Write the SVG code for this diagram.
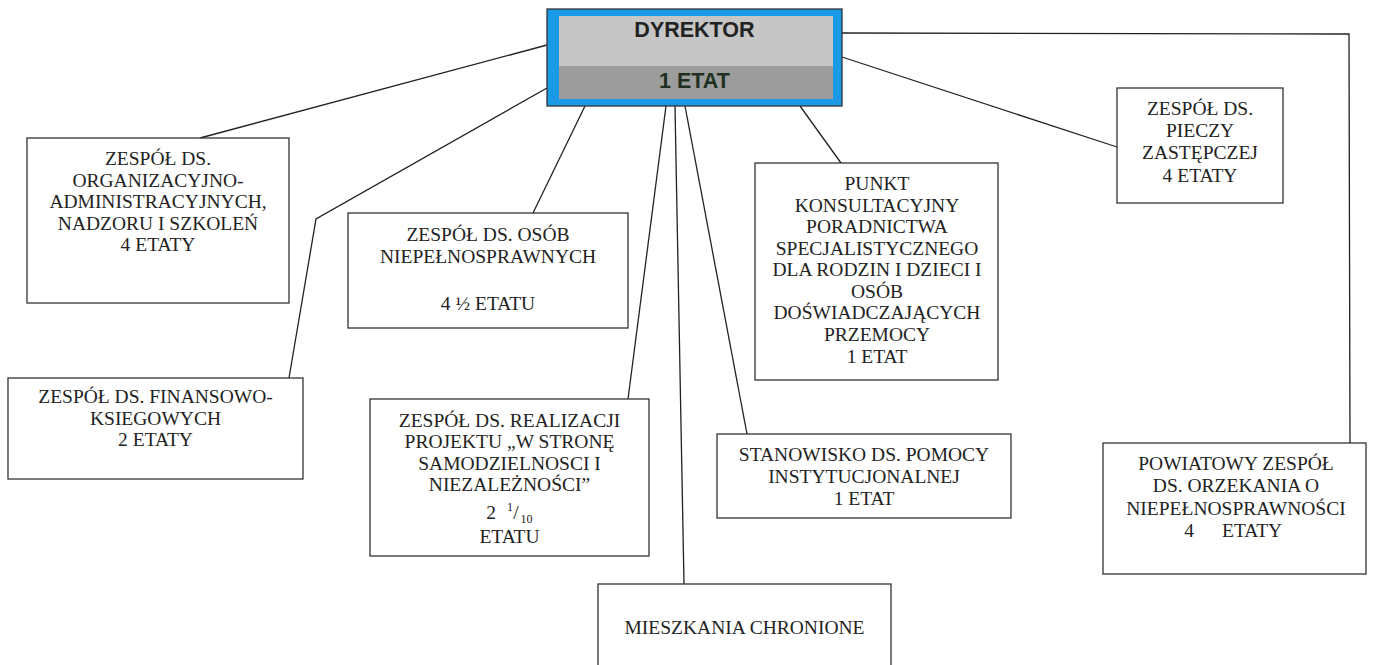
<svg xmlns="http://www.w3.org/2000/svg" width="1373" height="665" viewBox="0 0 1373 665">
<style>
.box{fill:#fff;stroke:#333;stroke-width:1.3}
.t{font-family:"Liberation Serif","Times New Roman",serif;font-size:19.5px;fill:#222;text-anchor:middle}
.d{font-family:"Liberation Sans",Arial,sans-serif;font-size:21.5px;font-weight:bold;text-anchor:middle}
.c{fill:none;stroke:#222;stroke-width:1.3}
</style>
<rect width="1373" height="665" fill="#fff"/>
<g id="connectors">
<line class="c" x1="547" y1="45" x2="200" y2="138"/>
<polyline class="c" points="547,88 316,219 289,378"/>
<line class="c" x1="585" y1="106" x2="533" y2="213"/>
<line class="c" x1="666" y1="106" x2="628" y2="399"/>
<line class="c" x1="675" y1="106" x2="684" y2="584"/>
<line class="c" x1="685" y1="106" x2="747" y2="434"/>
<line class="c" x1="800" y1="106" x2="841" y2="163"/>
<line class="c" x1="842" y1="57" x2="1117" y2="147"/>
<polyline class="c" points="842,33 1349,34 1350,443"/>
</g>
<g id="dyrektor">
<rect x="547" y="9" width="295" height="97" fill="#1a9ae6" stroke="#333" stroke-width="1.3"/>
<rect x="559" y="16" width="274" height="50" fill="#c6c6c6"/>
<rect x="559" y="66" width="274" height="33" fill="#9c9c9c"/>
<text class="d" x="694.5" y="37" fill="#222">DYREKTOR</text>
<text class="d" x="694.5" y="88" fill="#1f3020">1 ETAT</text>
</g>
<g id="org">
<rect class="box" x="27" y="138" width="262" height="165"/>
<text class="t" x="158" y="165">ZESPÓŁ DS.</text>
<text class="t" x="158" y="186.5">ORGANIZACYJNO-</text>
<text class="t" x="158" y="208">ADMINISTRACYJNYCH,</text>
<text class="t" x="158" y="229.5">NADZORU I SZKOLEŃ</text>
<text class="t" x="158" y="251">4 ETATY</text>
</g>
<g id="fin">
<rect class="box" x="8" y="378" width="295" height="101"/>
<text class="t" x="155.5" y="403">ZESPÓŁ DS. FINANSOWO-</text>
<text class="t" x="155.5" y="424.5">KSIEGOWYCH</text>
<text class="t" x="155.5" y="446">2 ETATY</text>
</g>
<g id="osob">
<rect class="box" x="348" y="213" width="280" height="115"/>
<text class="t" x="488" y="240.5">ZESPÓŁ DS. OSÓB</text>
<text class="t" x="488" y="263">NIEPEŁNOSPRAWNYCH</text>
<text class="t" x="488" y="309.5">4 ½ ETATU</text>
</g>
<g id="realizacja">
<rect class="box" x="370" y="399" width="279" height="157"/>
<text class="t" x="509.5" y="426.5">ZESPÓŁ DS. REALIZACJI</text>
<text class="t" x="509.5" y="448">PROJEKTU „W STRONĘ</text>
<text class="t" x="509.5" y="469.5">SAMODZIELNOSCI I</text>
<text class="t" x="509.5" y="491">NIEZALEŻNOŚCI”</text>
<text class="t" x="491" y="519">2</text>
<text class="t" x="510" y="511" style="font-size:12px">1</text>
<text class="t" x="516" y="519">/</text>
<text class="t" x="526.5" y="523" style="font-size:12px">10</text>
<text class="t" x="509.5" y="543">ETATU</text>
</g>
<g id="mieszkania">
<rect class="box" x="598" y="584" width="293" height="90"/>
<text class="t" x="744.5" y="633.5">MIESZKANIA CHRONIONE</text>
</g>
<g id="stanowisko">
<rect class="box" x="717" y="434" width="294" height="84"/>
<text class="t" x="864" y="460.5">STANOWISKO DS. POMOCY</text>
<text class="t" x="864" y="483">INSTYTUCJONALNEJ</text>
<text class="t" x="864" y="504.5">1 ETAT</text>
</g>
<g id="punkt">
<rect class="box" x="755" y="163" width="243" height="217"/>
<text class="t" x="877" y="190">PUNKT</text>
<text class="t" x="877" y="211.5">KONSULTACYJNY</text>
<text class="t" x="877" y="233">PORADNICTWA</text>
<text class="t" x="877" y="254.5">SPECJALISTYCZNEGO</text>
<text class="t" x="877" y="276">DLA RODZIN I DZIECI I</text>
<text class="t" x="877" y="297.5">OSÓB</text>
<text class="t" x="877" y="319">DOŚWIADCZAJĄCYCH</text>
<text class="t" x="877" y="341">PRZEMOCY</text>
<text class="t" x="877" y="363">1 ETAT</text>
</g>
<g id="pieczy">
<rect class="box" x="1117" y="88" width="166" height="115"/>
<text class="t" x="1200" y="114.5">ZESPÓŁ DS.</text>
<text class="t" x="1200" y="136.5">PIECZY</text>
<text class="t" x="1200" y="159">ZASTĘPCZEJ</text>
<text class="t" x="1200" y="181.5">4 ETATY</text>
</g>
<g id="powiatowy">
<rect class="box" x="1103" y="443" width="263" height="131"/>
<text class="t" x="1236" y="469.5">POWIATOWY ZESPÓŁ</text>
<text class="t" x="1236" y="492">DS. ORZEKANIA O</text>
<text class="t" x="1236" y="514.5">NIEPEŁNOSPRAWNOŚCI</text>
<text class="t" x="1189" y="536.5">4</text>
<text class="t" x="1222" y="536.5" style="text-anchor:start">ETATY</text>
</g>
</svg>
